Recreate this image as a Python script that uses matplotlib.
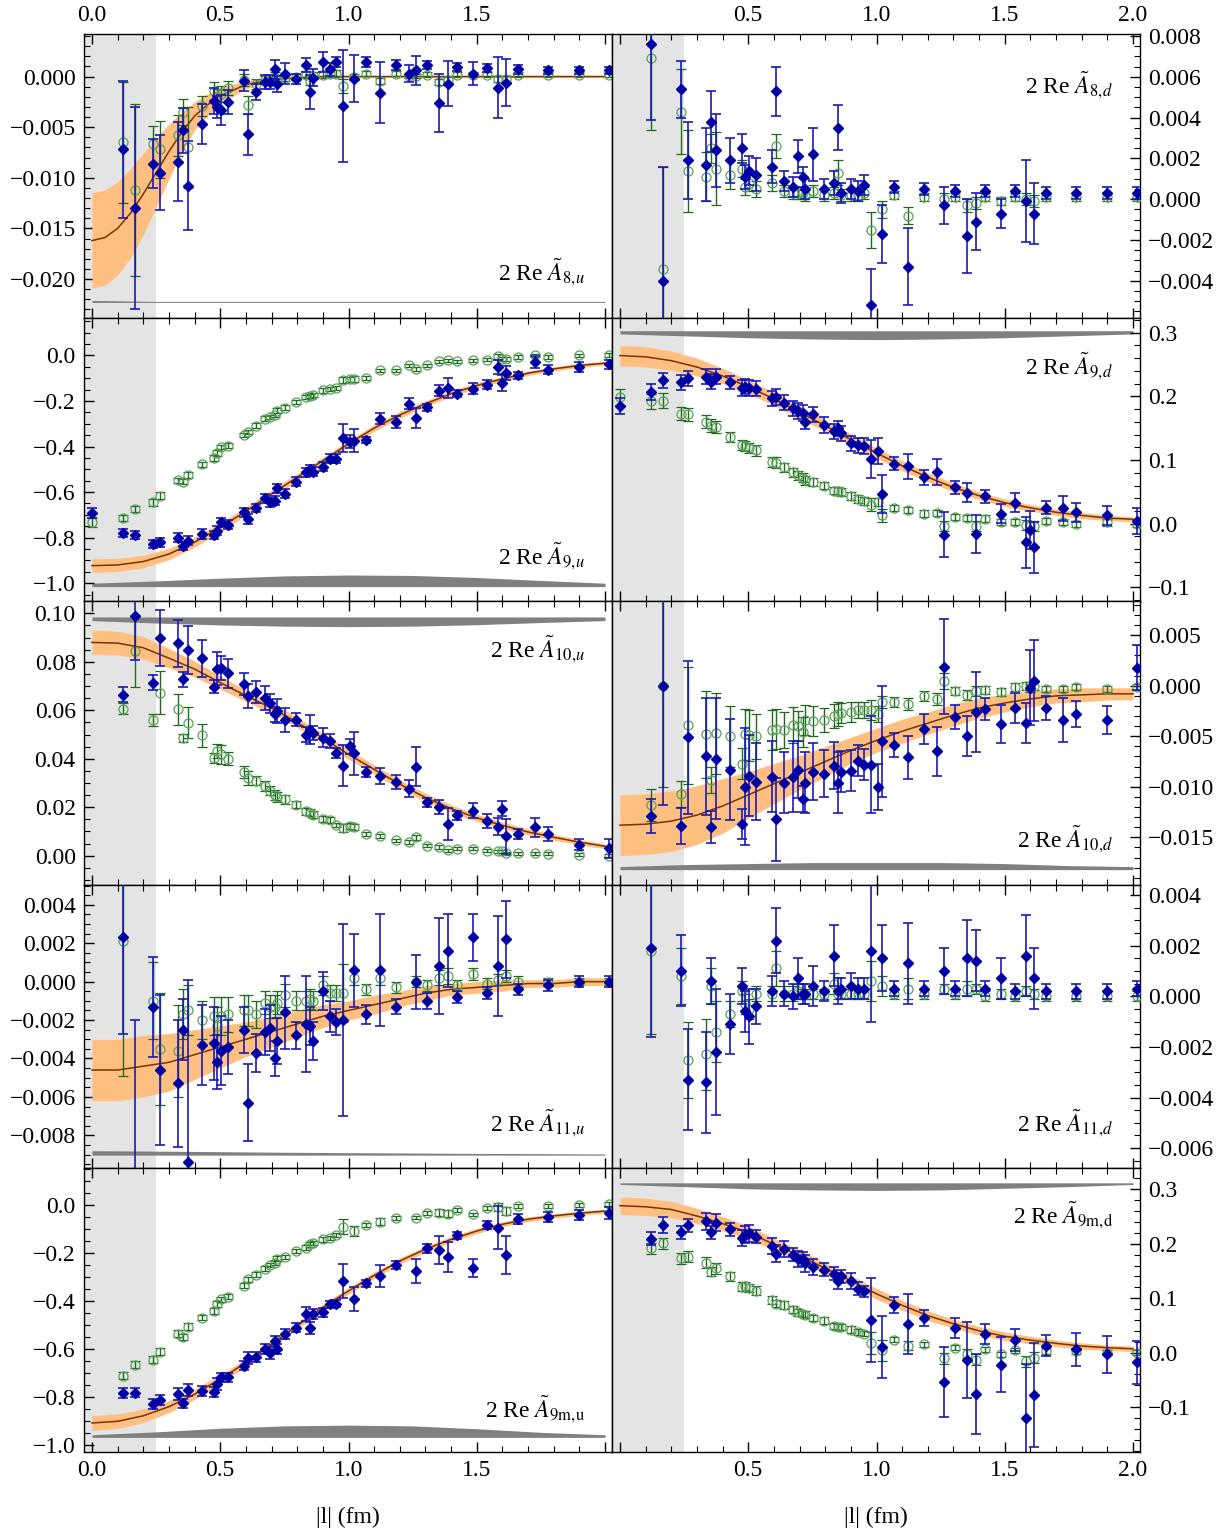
import numpy as np
import matplotlib
matplotlib.use("Agg")
import matplotlib.pyplot as plt
from matplotlib.ticker import MultipleLocator, FuncFormatter

plt.rcParams['font.family'] = ['Liberation Serif', 'DejaVu Serif']
plt.rcParams['mathtext.fontset'] = 'stix'
plt.rcParams['font.size'] = 17

N = np.nan

# lattice separations |l| (fm), shared by all panels
L_FM = [0.0, 0.12, 0.167, 0.236, 0.265, 0.336, 0.356, 0.376, 0.427, 0.476,
        0.489, 0.503, 0.531, 0.593, 0.607, 0.64, 0.673, 0.693, 0.713, 0.723,
        0.751, 0.796, 0.833, 0.849, 0.86, 0.90, 0.928, 0.951, 0.977, 1.007,
        1.02, 1.069, 1.124, 1.187, 1.237, 1.263, 1.307, 1.352, 1.388, 1.424,
        1.487, 1.54, 1.581, 1.599, 1.613, 1.66, 1.727, 1.779, 1.899, 2.015]

# ---- A8,u ----
A8U_BLUE = [N, -0.0072, -0.0130, -0.0086, -0.0095, -0.0084, -0.0053, -0.0108, -0.0047, -0.0024,
            -0.0030, -0.0033, -0.0025, -0.0004, -0.0057, -0.0015, -0.0005, -0.0005, 0.0007, -0.0007,
            0.0003, -0.0002, 0.0011, -0.0015, -0.0001, 0.0014, 0.0007, 0.0014, -0.0029, N,
            -0.0002, 0.0014, -0.0016, 0.0011, 0.0003, 0.0006, 0.0011, -0.0026, -0.0007, 0.0009,
            0.0003, 0.0008, -0.0011, N, -0.0006, 0.0007, N, 0.0006, 0.0006, 0.0006]
A8U_BLUE_ERR = [N, 0.0068, 0.0100, 0.0024, 0.0037, 0.0039, 0.0022, 0.0044, 0.0020, 0.0013,
                0.0011, 0.0015, 0.0012, 0.0010, 0.0020, 0.0008, 0.0007, 0.0007, 0.0009, 0.0008,
                0.0010, 0.0005, 0.0007, 0.0017, 0.0008, 0.0010, 0.0006, 0.0005, 0.0055, N,
                0.0023, 0.0005, 0.0030, 0.0005, 0.0008, 0.0014, 0.0004, 0.0029, 0.0022, 0.0004,
                0.0011, 0.0004, 0.0030, N, 0.0023, 0.0004, N, 0.0003, 0.0003, 0.0003]
A8U_GREEN = [N, -0.0065, -0.0112, -0.0067, -0.0072, -0.0058, -0.0035, -0.0070, -0.0029, -0.0014,
             -0.0020, -0.0017, -0.0011, -0.0003, -0.0028, -0.0007, -0.0003, -0.0004, 0.0000, -0.0002,
             -0.0001, 0.0000, 0.0002, -0.0004, 0.0001, 0.0002, 0.0003, 0.0003, -0.0009, N,
             0.0000, 0.0003, -0.0004, 0.0003, 0.0001, 0.0001, 0.0002, -0.0005, -0.0003, 0.0002,
             0.0002, 0.0002, -0.0002, N, -0.0002, 0.0002, N, 0.0002, 0.0002, 0.0002]
A8U_GREEN_ERR = [N, 0.0060, 0.0085, 0.0018, 0.0028, 0.0020, 0.0013, 0.0040, 0.0010, 0.0009,
                 0.0008, 0.0008, 0.0007, 0.0006, 0.0009, 0.0005, 0.0004, 0.0004, 0.0004, 0.0004,
                 0.0003, 0.0003, 0.0003, 0.0004, 0.0003, 0.0003, 0.0003, 0.0003, 0.0007, N,
                 0.0003, 0.0002, 0.0003, 0.0002, 0.0002, 0.0002, 0.0002, 0.0003, 0.0003, 0.0002,
                 0.0002, 0.0002, 0.0003, N, 0.0003, 0.0002, N, 0.0002, 0.0002, 0.0002]

# ---- A8,d ----
A8D_BLUE = [N, 0.0076, -0.0040, 0.0054, 0.0019, 0.0017, 0.0038, 0.0024, 0.0019, 0.0025,
            0.0011, 0.0014, 0.0012, 0.0016, 0.0053, 0.0009, 0.0006, 0.0021, 0.0011, 0.0005,
            0.0022, 0.0005, 0.0008, 0.0035, 0.0003, 0.0005, 0.0004, 0.0007, -0.0052, N,
            -0.0017, 0.0006, -0.0033, 0.0005, N, -0.0003, 0.0004, -0.0018, -0.0011, 0.0004,
            -0.0007, 0.0004, -0.0001, N, -0.0007, 0.0003, N, 0.0003, 0.0003, 0.0003]
A8D_BLUE_ERR = [N, 0.0037, 0.0056, 0.0014, 0.0019, 0.0018, 0.0015, 0.0018, 0.0011, 0.0007,
                0.0006, 0.0007, 0.0008, 0.0008, 0.0012, 0.0005, 0.0005, 0.0008, 0.0005, 0.0005,
                0.0013, 0.0005, 0.0006, 0.0011, 0.0005, 0.0005, 0.0005, 0.0005, 0.0018, N,
                0.0014, 0.0003, 0.0019, 0.0003, N, 0.0009, 0.0003, 0.0018, 0.0014, 0.0003,
                0.0007, 0.0003, 0.0020, N, 0.0015, 0.0003, N, 0.0003, 0.0003, 0.0003]
A8D_GREEN = [N, 0.0069, -0.0034, 0.0043, 0.0014, 0.0011, 0.0025, 0.0015, 0.0012, 0.0015,
             0.0006, 0.0008, 0.0005, 0.0008, 0.0026, 0.0004, 0.0003, 0.0003, 0.0003, 0.0002,
             0.0004, 0.0002, 0.0003, 0.0013, 0.0002, 0.0002, 0.0002, 0.0003, -0.0015, N,
             -0.0005, 0.0002, -0.0008, 0.0001, N, 0.0000, 0.0001, -0.0003, -0.0002, 0.0001,
             -0.0001, 0.0001, 0.0000, N, -0.0001, 0.0001, N, 0.0001, 0.0001, 0.0001]
A8D_GREEN_ERR = [N, 0.0035, 0.0050, 0.0021, 0.0020, 0.0012, 0.0007, 0.0018, 0.0007, 0.0004,
                 0.0004, 0.0004, 0.0004, 0.0004, 0.0006, 0.0003, 0.0003, 0.0003, 0.0003, 0.0003,
                 0.0003, 0.0003, 0.0003, 0.0006, 0.0003, 0.0003, 0.0003, 0.0003, 0.0009, N,
                 0.0004, 0.0002, 0.0004, 0.0002, N, 0.0003, 0.0002, 0.0003, 0.0003, 0.0002,
                 0.0002, 0.0002, 0.0003, N, 0.0003, 0.0002, N, 0.0002, 0.0002, 0.0002]

# ---- A9,u ----
A9U_BLUE = [-0.692, -0.780, -0.788, -0.828, -0.820, -0.800, -0.835, -0.813, -0.784, -0.790,
            -0.770, -0.733, -0.744, -0.689, -0.718, -0.671, -0.627, -0.645, -0.637, -0.583,
            -0.608, -0.554, -0.513, -0.500, -0.510, -0.488, -0.454, -0.453, -0.362, -0.378,
            -0.374, -0.371, -0.278, -0.293, -0.212, -0.275, -0.227, -0.155, -0.142, -0.168,
            -0.146, -0.129, -0.050, -0.120, -0.076, -0.088, -0.029, -0.063, -0.051, -0.038]
A9U_BLUE_ERR = [0.022, 0.018, 0.018, 0.018, 0.020, 0.020, 0.018, 0.020, 0.020, 0.018,
                0.020, 0.020, 0.020, 0.020, 0.020, 0.018, 0.020, 0.020, 0.020, 0.020,
                0.020, 0.020, 0.020, 0.020, 0.020, 0.020, 0.020, 0.020, 0.060, 0.030,
                0.050, 0.015, 0.025, 0.025, 0.025, 0.045, 0.015, 0.025, 0.045, 0.015,
                0.025, 0.020, 0.030, 0.035, 0.030, 0.015, 0.025, 0.020, 0.020, 0.020]
A9U_GREEN = [-0.733, -0.714, -0.674, -0.645, -0.615, -0.549, -0.554, -0.525, -0.478, -0.450,
             -0.429, -0.403, -0.396, -0.349, -0.337, -0.308, -0.278, -0.271, -0.261, -0.243,
             -0.229, -0.205, -0.183, -0.179, -0.173, -0.154, -0.147, -0.142, -0.107, -0.105,
             -0.103, -0.098, -0.066, -0.066, -0.044, -0.059, -0.044, -0.026, -0.022, -0.026,
             -0.022, -0.018, -0.004, -0.015, -0.015, -0.007, 0.000, -0.007, 0.000, 0.003]
A9U_GREEN_ERR = [0.020, 0.015, 0.015, 0.015, 0.015, 0.012, 0.012, 0.012, 0.012, 0.012,
                 0.012, 0.010, 0.010, 0.010, 0.010, 0.010, 0.010, 0.010, 0.010, 0.010,
                 0.010, 0.009, 0.009, 0.009, 0.009, 0.009, 0.009, 0.009, 0.012, 0.010,
                 0.012, 0.008, 0.008, 0.008, 0.008, 0.010, 0.008, 0.008, 0.008, 0.008,
                 0.008, 0.008, 0.012, 0.010, 0.010, 0.008, 0.008, 0.008, 0.008, 0.008]

# ---- A9,d ----
A9D_BLUE = [0.185, 0.207, 0.225, 0.222, 0.228, 0.231, 0.223, 0.231, 0.222, 0.213,
            0.215, 0.213, 0.212, 0.197, 0.199, 0.190, 0.181, 0.177, 0.174, 0.160,
            0.172, 0.155, 0.145, 0.150, 0.142, 0.126, 0.123, 0.122, 0.102, 0.114,
            0.047, 0.094, 0.090, 0.073, 0.081, -0.017, 0.057, 0.049, -0.016, 0.043,
            0.016, 0.033, -0.029, -0.010, -0.037, 0.025, 0.024, 0.018, 0.013, 0.004]
A9D_BLUE_ERR = [0.012, 0.012, 0.012, 0.012, 0.012, 0.012, 0.012, 0.012, 0.010, 0.012,
                0.012, 0.012, 0.012, 0.012, 0.012, 0.012, 0.012, 0.012, 0.012, 0.012,
                0.012, 0.012, 0.012, 0.012, 0.012, 0.012, 0.012, 0.012, 0.030, 0.020,
                0.030, 0.010, 0.020, 0.012, 0.020, 0.035, 0.010, 0.015, 0.030, 0.010,
                0.015, 0.015, 0.040, 0.030, 0.040, 0.010, 0.020, 0.015, 0.015, 0.020]
A9D_GREEN = [0.199, 0.192, 0.193, 0.173, 0.172, 0.160, 0.154, 0.152, 0.136, 0.123,
             0.122, 0.119, 0.115, 0.097, 0.096, 0.089, 0.081, 0.076, 0.072, 0.068,
             0.066, 0.060, 0.052, 0.051, 0.050, 0.044, 0.039, 0.036, 0.030, 0.034,
             0.013, 0.025, 0.022, 0.016, 0.017, -0.003, 0.011, 0.009, -0.003, 0.008,
             0.003, 0.003, -0.002, -0.003, -0.004, 0.004, 0.003, 0.000, 0.002, 0.000]
A9D_GREEN_ERR = [0.012, 0.012, 0.012, 0.010, 0.010, 0.010, 0.010, 0.010, 0.008, 0.008,
                 0.008, 0.008, 0.008, 0.008, 0.008, 0.007, 0.007, 0.007, 0.007, 0.007,
                 0.006, 0.006, 0.006, 0.006, 0.006, 0.006, 0.006, 0.006, 0.010, 0.006,
                 0.010, 0.005, 0.005, 0.005, 0.005, 0.008, 0.005, 0.005, 0.008, 0.005,
                 0.005, 0.005, 0.008, 0.008, 0.008, 0.005, 0.005, 0.005, 0.005, 0.005]

# ---- A10,u ----
A10U_BLUE = [N, 0.0665, 0.0988, 0.0714, 0.0898, 0.0876, 0.0727, 0.0848, 0.0814, 0.0698,
             0.0772, 0.0775, 0.0752, 0.0710, 0.0658, 0.0674, 0.0652, 0.0628, 0.0583, 0.0597,
             0.0561, 0.0561, 0.0500, 0.0520, 0.0507, 0.0487, 0.0473, 0.0423, 0.0372, 0.0451,
             0.0423, 0.0345, 0.0328, 0.0305, 0.0277, 0.0367, 0.0220, 0.0201, 0.0131, 0.0166,
             0.0186, 0.0143, 0.0120, 0.0194, 0.0080, 0.0091, 0.0117, 0.0090, 0.0046, 0.0030]
A10U_BLUE_ERR = [N, 0.0030, 0.0180, 0.0030, 0.0116, 0.0098, 0.0030, 0.0100, 0.0076, 0.0027,
                 0.0067, 0.0050, 0.0060, 0.0045, 0.0050, 0.0045, 0.0050, 0.0038, 0.0030, 0.0050,
                 0.0050, 0.0026, 0.0030, 0.0060, 0.0030, 0.0040, 0.0030, 0.0020, 0.0085, 0.0030,
                 0.0088, 0.0020, 0.0033, 0.0030, 0.0035, 0.0080, 0.0020, 0.0030, 0.0066, 0.0019,
                 0.0030, 0.0030, 0.0035, 0.0030, 0.0072, 0.0020, 0.0038, 0.0030, 0.0024, 0.0040]
A10U_GREEN = [N, 0.0607, 0.0845, 0.0560, 0.0673, 0.0604, 0.0487, 0.0549, 0.0496, 0.0404,
              0.0432, 0.0418, 0.0401, 0.0346, 0.0321, 0.0310, 0.0287, 0.0269, 0.0250, 0.0241,
              0.0232, 0.0211, 0.0183, 0.0177, 0.0170, 0.0152, 0.0148, 0.0127, 0.0114, 0.0123,
              0.0117, 0.0090, 0.0083, 0.0063, 0.0057, 0.0076, 0.0041, 0.0036, 0.0022, 0.0029,
              0.0029, 0.0020, 0.0018, 0.0018, 0.0011, 0.0010, 0.0011, 0.0008, 0.0004, 0.0000]
A10U_GREEN_ERR = [N, 0.0024, 0.0150, 0.0024, 0.0088, 0.0063, 0.0017, 0.0064, 0.0047, 0.0020,
                  0.0030, 0.0040, 0.0028, 0.0025, 0.0030, 0.0020, 0.0020, 0.0020, 0.0020, 0.0020,
                  0.0018, 0.0015, 0.0015, 0.0015, 0.0015, 0.0012, 0.0012, 0.0010, 0.0015, 0.0012,
                  0.0012, 0.0008, 0.0008, 0.0008, 0.0008, 0.0010, 0.0007, 0.0007, 0.0007, 0.0007,
                  0.0007, 0.0006, 0.0006, 0.0006, 0.0006, 0.0006, 0.0006, 0.0006, 0.0006, 0.0006]

# ---- A10,d ----
A10D_BLUE = [N, -0.0129, 0.0000, -0.0139, -0.0051, -0.0070, -0.0140, -0.0072, -0.0083, -0.0137,
             -0.0100, -0.0089, -0.0095, -0.0090, -0.0132, -0.0096, -0.0090, -0.0083, -0.0112, -0.0096,
             -0.0085, -0.0087, -0.0079, -0.0096, -0.0085, -0.0084, -0.0074, -0.0078, -0.0078, -0.0100,
             -0.0055, -0.0059, -0.0071, -0.0043, -0.0065, 0.0019, -0.0031, -0.0050, -0.0026, -0.0023,
             -0.0038, -0.0022, -0.0037, -0.0002, 0.0005, -0.0022, -0.0034, -0.0028, -0.0034, 0.0018]
A10D_BLUE_ERR = [N, 0.0017, 0.0118, 0.0018, 0.0076, 0.0058, 0.0016, 0.0060, 0.0050, 0.0015,
                 0.0058, 0.0040, 0.0038, 0.0035, 0.0041, 0.0030, 0.0035, 0.0028, 0.0013, 0.0030,
                 0.0028, 0.0023, 0.0023, 0.0030, 0.0020, 0.0020, 0.0015, 0.0015, 0.0048, 0.0023,
                 0.0055, 0.0012, 0.0021, 0.0015, 0.0024, 0.0047, 0.0012, 0.0020, 0.0040, 0.0011,
                 0.0019, 0.0015, 0.0020, 0.0037, 0.0040, 0.0012, 0.0022, 0.0013, 0.0014, 0.0022]
A10D_GREEN = [N, -0.0118, 0.0000, -0.0107, -0.0039, -0.0048, -0.0093, -0.0047, -0.0050, -0.0077,
              -0.0048, -0.0049, -0.0050, -0.0044, -0.0043, -0.0044, -0.0039, -0.0040, -0.0046, -0.0034,
              -0.0035, -0.0034, -0.0030, -0.0028, -0.0027, -0.0026, -0.0024, -0.0024, -0.0024, -0.0028,
              -0.0016, -0.0016, -0.0018, -0.0010, -0.0013, 0.0005, -0.0005, -0.0009, -0.0005, -0.0004,
              -0.0006, -0.0001, 0.0000, -0.0002, 0.0000, -0.0003, -0.0003, -0.0001, -0.0003, -0.0001]
A10D_GREEN_ERR = [N, 0.0016, 0.0100, 0.0013, 0.0058, 0.0043, 0.0013, 0.0040, 0.0030, 0.0015,
                  0.0025, 0.0025, 0.0022, 0.0020, 0.0020, 0.0018, 0.0018, 0.0015, 0.0015, 0.0015,
                  0.0015, 0.0012, 0.0012, 0.0012, 0.0010, 0.0010, 0.0008, 0.0008, 0.0010, 0.0008,
                  0.0006, 0.0005, 0.0006, 0.0005, 0.0006, 0.0008, 0.0004, 0.0005, 0.0005, 0.0004,
                  0.0004, 0.0004, 0.0004, 0.0004, 0.0004, 0.0003, 0.0003, 0.0003, 0.0003, 0.0003]

# ---- A11,u ----
A11U_BLUE = [N, 0.0023, -0.0105, -0.0013, -0.0046, -0.0053, -0.0025, -0.0094, -0.0033, -0.0032,
             -0.0042, -0.0036, -0.0034, -0.0025, -0.0063, -0.0037, -0.0026, -0.0024, -0.0040, -0.0031,
             -0.0016, -0.0028, -0.0022, -0.0023, -0.0031, -0.0005, -0.0018, -0.0021, -0.0020, N,
             0.0006, -0.0017, 0.0006, -0.0013, N, 0.0000, -0.0010, 0.0008, 0.0016, -0.0008,
             0.0023, -0.0006, 0.0008, N, 0.0022, -0.0004, N, -0.0002, 0.0000, 0.0000]
A11U_BLUE_ERR = [N, 0.0050, 0.0085, 0.0026, 0.0039, 0.0033, 0.0016, 0.0095, 0.0021, 0.0019,
                 0.0014, 0.0018, 0.0014, 0.0012, 0.0020, 0.0010, 0.0012, 0.0012, 0.0009, 0.0012,
                 0.0019, 0.0007, 0.0025, 0.0010, 0.0010, 0.0010, 0.0008, 0.0007, 0.0050, N,
                 0.0019, 0.0005, 0.0029, 0.0004, N, 0.0014, 0.0004, 0.0025, 0.0019, 0.0003,
                 0.0012, 0.0003, 0.0026, N, 0.0020, 0.0003, N, 0.0003, 0.0003, 0.0003]
A11U_GREEN = [N, 0.0021, N, -0.0010, -0.0035, -0.0036, -0.0017, -0.0015, -0.0020, -0.0018,
              -0.0023, -0.0018, -0.0017, -0.0015, -0.0015, -0.0017, -0.0011, -0.0013, -0.0013, -0.0011,
              -0.0007, -0.0010, -0.0010, -0.0009, -0.0010, -0.0002, -0.0006, -0.0006, -0.0006, N,
              0.0002, -0.0004, 0.0002, -0.0003, N, 0.0000, -0.0002, 0.0002, 0.0003, -0.0002,
              0.0004, -0.0001, 0.0001, N, 0.0003, 0.0000, N, 0.0000, 0.0000, 0.0000]
A11U_GREEN_ERR = [N, 0.0070, N, 0.0020, 0.0029, 0.0024, 0.0013, 0.0013, 0.0010, 0.0010,
                  0.0010, 0.0010, 0.0009, 0.0008, 0.0008, 0.0007, 0.0006, 0.0006, 0.0006, 0.0006,
                  0.0006, 0.0005, 0.0005, 0.0005, 0.0005, 0.0005, 0.0004, 0.0004, 0.0015, N,
                  0.0004, 0.0003, 0.0004, 0.0003, N, 0.0003, 0.0003, 0.0004, 0.0004, 0.0003,
                  0.0003, 0.0003, 0.0003, N, 0.0003, 0.0003, N, 0.0002, 0.0002, 0.0002]

# ---- A11,d ----
A11D_BLUE = [N, 0.0019, N, 0.0010, -0.0033, -0.0034, 0.0006, -0.0022, -0.0011, 0.0004,
             -0.0006, -0.0008, -0.0004, 0.0002, 0.0022, 0.0001, 0.0000, 0.0007, 0.0001, 0.0001,
             0.0004, 0.0002, 0.0016, 0.0002, 0.0003, 0.0004, 0.0003, 0.0003, 0.0018, N,
             0.0015, 0.0003, 0.0013, 0.0003, N, 0.0010, 0.0003, 0.0015, 0.0014, 0.0003,
             0.0007, 0.0002, 0.0016, N, 0.0007, 0.0002, N, 0.0002, 0.0002, 0.0003]
A11D_BLUE_ERR = [N, 0.0035, N, 0.0014, 0.0020, 0.0020, 0.0009, 0.0025, 0.0012, 0.0007,
                 0.0008, 0.0011, 0.0007, 0.0006, 0.0013, 0.0005, 0.0005, 0.0008, 0.0004, 0.0004,
                 0.0008, 0.0004, 0.0012, 0.0005, 0.0004, 0.0005, 0.0004, 0.0004, 0.0028, N,
                 0.0013, 0.0003, 0.0016, 0.0003, N, 0.0009, 0.0003, 0.0015, 0.0012, 0.0003,
                 0.0008, 0.0003, 0.0016, N, 0.0012, 0.0003, N, 0.0003, 0.0003, 0.0003]
A11D_GREEN = [N, 0.0018, N, 0.0008, -0.0025, -0.0023, 0.0004, -0.0014, -0.0007, 0.0002,
              -0.0003, -0.0005, 0.0001, 0.0001, 0.0011, 0.0001, 0.0001, 0.0002, 0.0001, 0.0001,
              0.0001, 0.0001, 0.0005, 0.0001, 0.0001, 0.0001, 0.0001, 0.0001, 0.0006, N,
              0.0004, 0.0001, 0.0003, 0.0001, N, 0.0003, 0.0001, 0.0003, 0.0003, 0.0000,
              0.0001, 0.0000, 0.0002, N, 0.0001, 0.0000, N, 0.0000, 0.0000, 0.0000]
A11D_GREEN_ERR = [N, 0.0033, N, 0.0011, 0.0015, 0.0014, 0.0007, 0.0012, 0.0005, 0.0004,
                  0.0004, 0.0004, 0.0003, 0.0003, 0.0007, 0.0003, 0.0003, 0.0003, 0.0002, 0.0002,
                  0.0002, 0.0002, 0.0004, 0.0002, 0.0002, 0.0002, 0.0002, 0.0002, 0.0008, N,
                  0.0004, 0.0002, 0.0004, 0.0002, N, 0.0002, 0.0002, 0.0003, 0.0002, 0.0002,
                  0.0002, 0.0002, 0.0002, N, 0.0002, 0.0002, N, 0.0002, 0.0002, 0.0002]

# ---- A9m,u ----
A9MU_BLUE = [N, -0.783, -0.781, -0.829, -0.813, -0.788, -0.826, -0.771, -0.774, -0.778,
             -0.746, -0.718, -0.718, -0.669, -0.638, -0.632, -0.600, -0.614, -0.565, -0.600,
             -0.538, -0.510, -0.454, -0.510, -0.454, -0.447, -0.413, -0.410, -0.315, N,
             -0.392, -0.325, -0.294, -0.249, N, -0.274, -0.180, -0.186, -0.214, -0.125,
             -0.263, -0.082, -0.093, N, -0.207, -0.058, N, -0.049, -0.040, -0.033]
A9MU_BLUE_ERR = [N, 0.020, 0.020, 0.020, 0.020, 0.025, 0.020, 0.025, 0.020, 0.020,
                 0.025, 0.020, 0.020, 0.020, 0.025, 0.020, 0.020, 0.025, 0.020, 0.020,
                 0.020, 0.020, 0.030, 0.025, 0.020, 0.020, 0.015, 0.015, 0.070, N,
                 0.050, 0.015, 0.045, 0.015, N, 0.050, 0.018, 0.057, 0.063, 0.015,
                 0.038, 0.018, 0.090, N, 0.078, 0.020, N, 0.020, 0.020, 0.025]
A9MU_GREEN = [N, -0.711, -0.665, -0.644, -0.611, -0.535, -0.549, -0.507, -0.468, -0.440,
              -0.413, -0.392, -0.382, -0.336, -0.308, -0.290, -0.264, -0.249, -0.239, -0.222,
              -0.215, -0.190, -0.176, -0.163, -0.156, -0.142, -0.135, -0.124, -0.089, N,
              -0.107, -0.082, -0.069, -0.054, N, -0.051, -0.033, -0.031, -0.035, -0.019,
              -0.038, -0.010, -0.007, N, -0.024, -0.003, N, -0.003, 0.000, 0.004]
A9MU_GREEN_ERR = [N, 0.015, 0.015, 0.015, 0.015, 0.015, 0.012, 0.015, 0.012, 0.012,
                  0.012, 0.010, 0.010, 0.010, 0.010, 0.010, 0.010, 0.010, 0.010, 0.010,
                  0.009, 0.009, 0.009, 0.009, 0.009, 0.009, 0.009, 0.009, 0.030, N,
                  0.020, 0.008, 0.015, 0.008, N, 0.008, 0.008, 0.015, 0.015, 0.008,
                  0.008, 0.008, 0.015, N, 0.015, 0.008, N, 0.008, 0.008, 0.008]

# ---- A9m,d ----
A9MD_BLUE = [N, 0.209, 0.234, 0.221, 0.234, 0.241, 0.221, 0.239, 0.227, 0.210,
             0.217, 0.219, 0.213, 0.196, 0.182, 0.190, 0.180, 0.172, 0.172, 0.164,
             0.157, 0.152, 0.145, 0.131, 0.140, 0.132, 0.117, 0.113, 0.060, N,
             0.010, 0.087, 0.053, 0.064, N, -0.054, 0.045, -0.014, -0.076, 0.034,
             -0.022, 0.023, -0.121, N, -0.078, 0.013, N, 0.006, -0.003, -0.018]
A9MD_BLUE_ERR = [N, 0.012, 0.015, 0.012, 0.012, 0.015, 0.012, 0.015, 0.012, 0.015,
                 0.015, 0.015, 0.012, 0.015, 0.015, 0.015, 0.012, 0.015, 0.012, 0.015,
                 0.015, 0.012, 0.012, 0.015, 0.012, 0.015, 0.012, 0.010, 0.077, N,
                 0.057, 0.015, 0.055, 0.015, N, 0.064, 0.018, 0.070, 0.074, 0.018,
                 0.050, 0.020, 0.100, N, 0.095, 0.020, N, 0.030, 0.034, 0.040]
A9MD_GREEN = [N, 0.192, 0.201, 0.173, 0.176, 0.165, 0.149, 0.155, 0.140, 0.121,
              0.122, 0.119, 0.114, 0.097, 0.090, 0.088, 0.079, 0.074, 0.071, 0.070,
              0.064, 0.059, 0.049, 0.047, 0.047, 0.042, 0.038, 0.035, 0.018, N,
              0.004, 0.024, 0.013, 0.015, N, -0.010, 0.009, -0.002, -0.013, 0.006,
              -0.003, 0.004, -0.016, N, -0.009, 0.003, N, 0.003, 0.000, 0.000]
A9MD_GREEN_ERR = [N, 0.010, 0.010, 0.010, 0.010, 0.010, 0.008, 0.010, 0.008, 0.008,
                  0.008, 0.008, 0.008, 0.007, 0.007, 0.007, 0.007, 0.007, 0.006, 0.006,
                  0.006, 0.006, 0.006, 0.006, 0.006, 0.006, 0.005, 0.005, 0.020, N,
                  0.020, 0.005, 0.008, 0.005, N, 0.010, 0.005, 0.008, 0.010, 0.005,
                  0.005, 0.005, 0.010, N, 0.010, 0.005, N, 0.005, 0.005, 0.005]

# fitted curves (centre and half width of the band)
FIT_X = [0.0, 0.1, 0.2, 0.3, 0.4, 0.5, 0.6, 0.7, 0.8, 0.9, 1.0,
         1.1, 1.2, 1.3, 1.4, 1.5, 1.6, 1.7, 1.8, 1.9, 2.0]
A8U_FIT_X = [0.0, 0.05, 0.1, 0.15, 0.2, 0.25, 0.3, 0.35, 0.4, 0.45, 0.5,
             0.6, 0.7, 0.8, 0.9, 1.0, 2.0]
A8U_FIT = [-0.0162, -0.0159, -0.0150, -0.0135, -0.0116, -0.0095, -0.0074, -0.0055, -0.0039, -0.0028,
           -0.0019, -0.0008, -0.0003, -0.0001, 0.0, 0.0, 0.0]
A8U_FIT_ERR = [0.0047, 0.0047, 0.0046, 0.0044, 0.0040, 0.0034, 0.0027, 0.0020, 0.0014, 0.0011,
               0.0008, 0.0004, 0.0002, 0.0001, 0.0001, 0.0001, 0.0001]
A9U_FIT = [-0.923, -0.920, -0.905, -0.872, -0.820, -0.755, -0.684, -0.608, -0.535, -0.462, -0.388,
           -0.319, -0.261, -0.212, -0.168, -0.132, -0.103, -0.078, -0.059, -0.044, -0.034]
A9U_FIT_ERR = [0.030, 0.029, 0.027, 0.025, 0.022, 0.020, 0.018, 0.017, 0.016, 0.015, 0.015,
               0.014, 0.014, 0.013, 0.013, 0.012, 0.011, 0.010, 0.009, 0.009, 0.008]
A9D_FIT = [0.264, 0.262, 0.256, 0.246, 0.232, 0.215, 0.196, 0.175, 0.154, 0.132, 0.111,
           0.091, 0.073, 0.057, 0.044, 0.033, 0.025, 0.018, 0.013, 0.009, 0.007]
A9D_FIT_ERR = [0.016, 0.016, 0.015, 0.014, 0.012, 0.011, 0.010, 0.010, 0.009, 0.009, 0.008,
               0.008, 0.007, 0.007, 0.006, 0.006, 0.005, 0.005, 0.005, 0.004, 0.004]
A10U_FIT = [0.0880, 0.0877, 0.0858, 0.0815, 0.0770, 0.0714, 0.0660, 0.0610, 0.0550, 0.0485, 0.0418,
            0.0356, 0.0295, 0.0240, 0.0194, 0.0156, 0.0125, 0.0098, 0.0076, 0.0056, 0.0039]
A10U_FIT_ERR = [0.0050, 0.0049, 0.0046, 0.0040, 0.0033, 0.0027, 0.0024, 0.0022, 0.0021, 0.0020, 0.0020,
                0.0019, 0.0018, 0.0017, 0.0016, 0.0015, 0.0014, 0.0013, 0.0012, 0.0011, 0.0010]
A10D_FIT = [-0.0138, -0.0137, -0.0134, -0.0128, -0.0119, -0.0108, -0.0097, -0.0086, -0.0075, -0.0064, -0.0054,
            -0.0045, -0.0037, -0.0029, -0.0022, -0.0017, -0.0013, -0.0010, -0.0009, -0.0008, -0.0008]
A10D_FIT_ERR = [0.0030, 0.0030, 0.0030, 0.0029, 0.0027, 0.0023, 0.0020, 0.0017, 0.0015, 0.0013, 0.0012,
                0.0012, 0.0011, 0.0011, 0.0010, 0.0009, 0.0008, 0.0007, 0.0007, 0.0006, 0.0006]
A11U_FIT = [-0.0046, -0.0046, -0.0044, -0.0042, -0.0038, -0.0034, -0.0030, -0.0026, -0.0022, -0.0018, -0.0015,
            -0.0012, -0.0009, -0.0006, -0.0004, -0.0003, -0.0002, -0.0001, -0.0001, 0.0, 0.0]
A11U_FIT_ERR = [0.0016, 0.0016, 0.0016, 0.0015, 0.0013, 0.0011, 0.0009, 0.0008, 0.0007, 0.0006, 0.0005,
                0.0005, 0.0004, 0.0004, 0.0003, 0.0003, 0.0003, 0.0002, 0.0002, 0.0002, 0.0002]
A9MU_FIT = [-0.908, -0.901, -0.878, -0.840, -0.788, -0.725, -0.656, -0.579, -0.502, -0.426, -0.357,
            -0.292, -0.232, -0.183, -0.142, -0.107, -0.079, -0.058, -0.044, -0.033, -0.024]
A9MU_FIT_ERR = [0.031, 0.030, 0.028, 0.025, 0.022, 0.018, 0.016, 0.015, 0.014, 0.014, 0.014,
                0.013, 0.013, 0.012, 0.012, 0.011, 0.010, 0.010, 0.009, 0.009, 0.008]
A9MD_FIT = [0.270, 0.268, 0.263, 0.251, 0.237, 0.221, 0.199, 0.178, 0.155, 0.132, 0.108,
            0.087, 0.068, 0.053, 0.040, 0.030, 0.023, 0.017, 0.012, 0.009, 0.007]
A9MD_FIT_ERR = [0.016, 0.016, 0.015, 0.014, 0.013, 0.012, 0.011, 0.011, 0.010, 0.010, 0.010,
                0.009, 0.009, 0.008, 0.008, 0.008, 0.007, 0.006, 0.006, 0.005, 0.005]

# grey bands (lower / upper edge)
BAND_X = [0.0, 0.25, 0.5, 0.75, 1.0, 1.25, 1.5, 1.75, 2.0]
A8U_BAND_LO = [-0.0223, -0.0223, -0.0223, -0.0223, -0.0223, -0.0223, -0.0223, -0.0223, -0.0223]
A8U_BAND_HI = [-0.0221, -0.0222, -0.0222, -0.0222, -0.0222, -0.0222, -0.0222, -0.0222, -0.0222]
A9U_BAND_LO = [-1.015, -1.015, -1.015, -1.015, -1.015, -1.015, -1.015, -1.015, -1.015]
A9U_BAND_HI = [-1.000, -0.990, -0.978, -0.968, -0.964, -0.966, -0.975, -0.988, -1.000]
A9D_BAND_LO = [0.298, 0.295, 0.292, 0.290, 0.289, 0.290, 0.292, 0.295, 0.298]
A9D_BAND_HI = [0.303, 0.303, 0.303, 0.303, 0.303, 0.303, 0.303, 0.303, 0.303]
A10U_BAND_LO = [0.0970, 0.0960, 0.0952, 0.0947, 0.0945, 0.0947, 0.0953, 0.0962, 0.0970]
A10U_BAND_HI = [0.0985, 0.0985, 0.0985, 0.0985, 0.0985, 0.0985, 0.0985, 0.0985, 0.0985]
A10D_BAND_LO = [-0.0182, -0.0182, -0.0182, -0.0182, -0.0182, -0.0182, -0.0182, -0.0182, -0.0182]
A10D_BAND_HI = [-0.0179, -0.0177, -0.0176, -0.0175, -0.0175, -0.0175, -0.0176, -0.0178, -0.0179]
A11U_BAND_LO = [-0.00903, -0.00903, -0.00903, -0.00903, -0.00903, -0.00903, -0.00903, -0.00903, -0.00903]
A11U_BAND_HI = [-0.00880, -0.00882, -0.00885, -0.00888, -0.00890, -0.00892, -0.00894, -0.00895, -0.00897]
A9MU_BAND_LO = [-0.968, -0.968, -0.968, -0.968, -0.968, -0.968, -0.968, -0.968, -0.968]
A9MU_BAND_HI = [-0.957, -0.945, -0.930, -0.920, -0.917, -0.920, -0.932, -0.947, -0.957]
A9MD_BAND_LO = [0.309, 0.305, 0.301, 0.299, 0.298, 0.299, 0.302, 0.305, 0.309]
A9MD_BAND_HI = [0.312, 0.312, 0.312, 0.312, 0.312, 0.312, 0.312, 0.312, 0.312]

PANELS = [
    dict(blue=A8U_BLUE, be=A8U_BLUE_ERR, green=A8U_GREEN, ge=A8U_GREEN_ERR,
         fx=A8U_FIT_X, fit=A8U_FIT, fe=A8U_FIT_ERR, lo=A8U_BAND_LO, hi=A8U_BAND_HI,
         ylim=(-0.0238, 0.0042), major=0.005, minor=0.001, dec=3,
         label=r'2 Re $\tilde{A}_{8,\!u}$', ly=0.16),
    dict(blue=A8D_BLUE, be=A8D_BLUE_ERR, green=A8D_GREEN, ge=A8D_GREEN_ERR,
         fx=None, fit=None, fe=None, lo=None, hi=None,
         ylim=(-0.0058, 0.0081), major=0.002, minor=0.0005, dec=3,
         label=r'2 Re $\tilde{A}_{8,\!d}$', ly=0.82),
    dict(blue=A9U_BLUE, be=A9U_BLUE_ERR, green=A9U_GREEN, ge=A9U_GREEN_ERR,
         fx=FIT_X, fit=A9U_FIT, fe=A9U_FIT_ERR, lo=A9U_BAND_LO, hi=A9U_BAND_HI,
         ylim=(-1.079, 0.166), major=0.2, minor=0.05, dec=1,
         label=r'2 Re $\tilde{A}_{9,\!u}$', ly=0.16),
    dict(blue=A9D_BLUE, be=A9D_BLUE_ERR, green=A9D_GREEN, ge=A9D_GREEN_ERR,
         fx=FIT_X, fit=A9D_FIT, fe=A9D_FIT_ERR, lo=A9D_BAND_LO, hi=A9D_BAND_HI,
         ylim=(-0.1216, 0.3236), major=0.1, minor=0.02, dec=1,
         label=r'2 Re $\tilde{A}_{9,\!d}$', ly=0.83),
    dict(blue=A10U_BLUE, be=A10U_BLUE_ERR, green=A10U_GREEN, ge=A10U_GREEN_ERR,
         fx=FIT_X, fit=A10U_FIT, fe=A10U_FIT_ERR, lo=A10U_BAND_LO, hi=A10U_BAND_HI,
         ylim=(-0.012, 0.105), major=0.02, minor=0.005, dec=2,
         label=r'2 Re $\tilde{A}_{10,\!u}$', ly=0.83),
    dict(blue=A10D_BLUE, be=A10D_BLUE_ERR, green=A10D_GREEN, ge=A10D_GREEN_ERR,
         fx=FIT_X, fit=A10D_FIT, fe=A10D_FIT_ERR, lo=A10D_BAND_LO, hi=A10D_BAND_HI,
         ylim=(-0.0197, 0.00837), major=0.005, minor=0.001, dec=3,
         label=r'2 Re $\tilde{A}_{10,\!d}$', ly=0.16),
    dict(blue=A11U_BLUE, be=A11U_BLUE_ERR, green=A11U_GREEN, ge=A11U_GREEN_ERR,
         fx=FIT_X, fit=A11U_FIT, fe=A11U_FIT_ERR, lo=A11U_BAND_LO, hi=A11U_BAND_HI,
         ylim=(-0.00972, 0.00504), major=0.002, minor=0.0005, dec=3,
         label=r'2 Re $\tilde{A}_{11,\!u}$', ly=0.16),
    dict(blue=A11D_BLUE, be=A11D_BLUE_ERR, green=A11D_GREEN, ge=A11D_GREEN_ERR,
         fx=None, fit=None, fe=None, lo=None, hi=None,
         ylim=(-0.0068, 0.0044), major=0.002, minor=0.0005, dec=3,
         label=r'2 Re $\tilde{A}_{11,\!d}$', ly=0.16),
    dict(blue=A9MU_BLUE, be=A9MU_BLUE_ERR, green=A9MU_GREEN, ge=A9MU_GREEN_ERR,
         fx=FIT_X, fit=A9MU_FIT, fe=A9MU_FIT_ERR, lo=A9MU_BAND_LO, hi=A9MU_BAND_HI,
         ylim=(-1.029, 0.154), major=0.2, minor=0.05, dec=1,
         label=r'2 Re $\tilde{A}_{\mathrm{9m,\!u}}$', ly=0.15),
    dict(blue=A9MD_BLUE, be=A9MD_BLUE_ERR, green=A9MD_GREEN, ge=A9MD_GREEN_ERR,
         fx=FIT_X, fit=A9MD_FIT, fe=A9MD_FIT_ERR, lo=A9MD_BAND_LO, hi=A9MD_BAND_HI,
         ylim=(-0.1826, 0.3385), major=0.1, minor=0.02, dec=1,
         label=r'2 Re $\tilde{A}_{\mathrm{9m,\!d}}$', ly=0.835),
]


def yfmt(dec):
    def f(v, pos):
        s = f'{v:.{dec}f}'
        if float(s) == 0:
            s = s.lstrip('-')
        return s.replace('-', '\u2212')
    return FuncFormatter(f)


def xfmt(skip):
    def f(v, pos):
        if abs(v - skip) < 1e-6:
            return ''
        return f'{v:.1f}'
    return FuncFormatter(f)


W, H = 1227, 1536
COL_X = [84, 612]
AX_W = 528
AX_H = 283.6
TOP = 34

fig = plt.figure(figsize=(12.27, 15.36), dpi=100)

for i, p in enumerate(PANELS):
    row, col = divmod(i, 2)
    top = TOP + row * AX_H
    ax = fig.add_axes([COL_X[col] / W, 1 - (top + AX_H) / H, AX_W / W, AX_H / H])

    ax.axvspan(-0.1, 0.25, color='#e4e4e4', lw=0, zorder=0)
    if p['lo'] is not None:
        ax.fill_between(BAND_X, p['lo'], p['hi'], color='#808080', lw=0, zorder=1)
    if p['fit'] is not None:
        c = np.array(p['fit'])
        h = np.array(p['fe'])
        ax.fill_between(p['fx'], c - h, c + h, color='#ffbf80', lw=0, zorder=2)
        ax.plot(p['fx'], c, color='#7a3300', lw=1.1, zorder=3)

    ax.errorbar(L_FM, p['green'], yerr=p['ge'], fmt='o', ms=6.5, mfc='none',
                mec='#5aa05a', mew=0.9, ecolor='#1f6a1f', elinewidth=1.0,
                capsize=3.5, capthick=1.0, zorder=4)
    ax.errorbar(L_FM, p['blue'], yerr=p['be'], fmt='D', ms=5, mfc='#0000a5',
                mec='#0000a5', ecolor='#1a1ab4', elinewidth=1.2,
                capsize=3.5, capthick=1.2, zorder=5)

    ax.set_xlim(-0.031, 2.027)
    ax.set_ylim(*p['ylim'])
    ax.xaxis.set_major_locator(MultipleLocator(0.5))
    ax.xaxis.set_minor_locator(MultipleLocator(0.1))
    ax.yaxis.set_major_locator(MultipleLocator(p['major']))
    ax.yaxis.set_minor_locator(MultipleLocator(p['minor']))
    ax.yaxis.set_major_formatter(yfmt(p['dec']))
    ax.xaxis.set_major_formatter(xfmt(2.0 if col == 0 else 0.0))

    ax.tick_params(axis='x', which='both', direction='in', top=True, bottom=True,
                   labeltop=(row == 0), labelbottom=(row == 4), pad=6)
    if col == 0:
        ax.tick_params(axis='y', which='both', direction='in', left=True, right=False,
                       labelleft=True, labelright=False, pad=6)
    else:
        ax.tick_params(axis='y', which='both', direction='in', left=False, right=True,
                       labelleft=False, labelright=True, pad=6)
    ax.tick_params(which='major', length=7, width=1.0)
    ax.tick_params(which='minor', length=4, width=0.8)
    for s in ax.spines.values():
        s.set_linewidth(1.0)

    ax.text(0.95, p['ly'], p['label'], transform=ax.transAxes, ha='right',
            va='center', fontsize=17, zorder=6)

    if row == 4:
        ax.set_xlabel('|l| (fm)', labelpad=18)

fig.savefig('out.png', dpi=100)
